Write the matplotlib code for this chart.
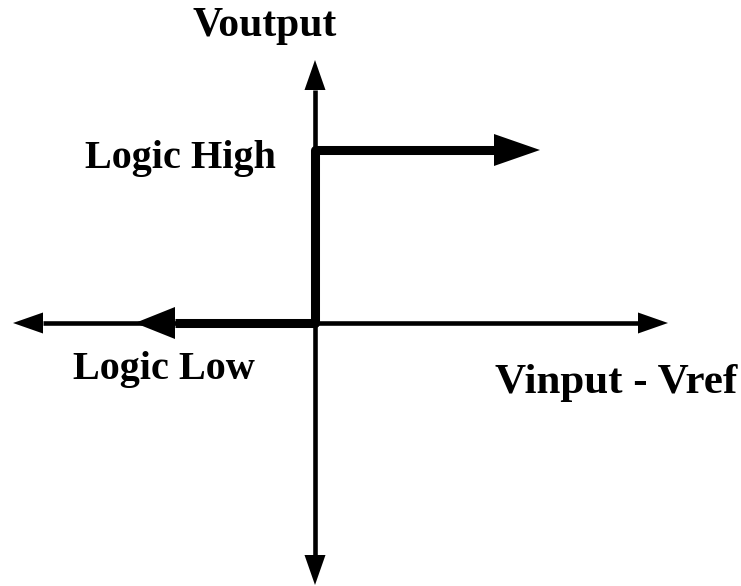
import matplotlib
matplotlib.use("Agg")
import matplotlib.pyplot as plt
import numpy as np

# comparator transfer characteristic (arbitrary units, origin at the axes crossing)
axis_x = [-3.02, 3.53]        # horizontal axis tips
axis_y = [-2.62, 2.63]        # vertical axis tips
step_x = [-1.80, 0.0, 0.0, 2.25]
step_y = [0.0, 0.0, 1.73, 1.73]

labels = ["Voutput", "Logic High", "Logic Low", "Vinput - Vref"]
label_pos = [(-1.22, 2.87), (-2.30, 1.55), (-2.42, -0.56), (1.80, -0.70)]
label_size = [30, 29, 29, 31]


def arrow_head(ax, tip, back, length, width, lw=0):
    # triangle pointing at tip, direction from back -> tip
    tip = np.array(tip, float)
    d = tip - np.array(back, float)
    d /= np.hypot(*d)
    n = np.array([-d[1], d[0]])
    base = tip - d * length
    pts = np.array([tip, base + n * width / 2, base - n * width / 2])
    ax.fill(pts[:, 0], pts[:, 1], color="black", lw=lw, zorder=3)
    return base


fig = plt.figure(figsize=(7.41, 5.86), dpi=100)
ax = fig.add_axes([0, 0, 1, 1])
ax.set_xlim(-3.15, 4.26)
ax.set_ylim(-2.63, 3.23)
ax.axis("off")

# thin axes with arrow heads at both ends
hl, hw = 0.30, 0.21
left = arrow_head(ax, (axis_x[0], 0), (0, 0), hl, hw)
right = arrow_head(ax, (axis_x[1], 0), (0, 0), hl, hw)
ax.plot([left[0], right[0]], [0, 0], color="black", lw=3.3, solid_capstyle="butt")
bot = arrow_head(ax, (0, axis_y[0]), (0, 0), hl, hw)
top = arrow_head(ax, (0, axis_y[1]), (0, 0), hl, hw)
ax.plot([0, 0], [bot[1], top[1]], color="black", lw=3.3, solid_capstyle="butt")

# thick step response
sx = list(step_x)
sy = list(step_y)
b0 = arrow_head(ax, (sx[0], sy[0]), (sx[1], sy[1]), 0.40, 0.32)
b1 = arrow_head(ax, (sx[-1], sy[-1]), (sx[-2], sy[-2]), 0.46, 0.32)
sx[0], sx[-1] = b0[0], b1[0]
ax.plot(sx, sy, color="black", lw=6.5, solid_capstyle="butt",
        solid_joinstyle="round", zorder=2)

for txt, (x, y), fs in zip(labels, label_pos, label_size):
    ax.text(x, y, txt, ha="left", va="baseline", fontsize=fs,
            fontweight="bold", family="Liberation Serif")

fig.savefig("out.png", dpi=100, facecolor="white")
